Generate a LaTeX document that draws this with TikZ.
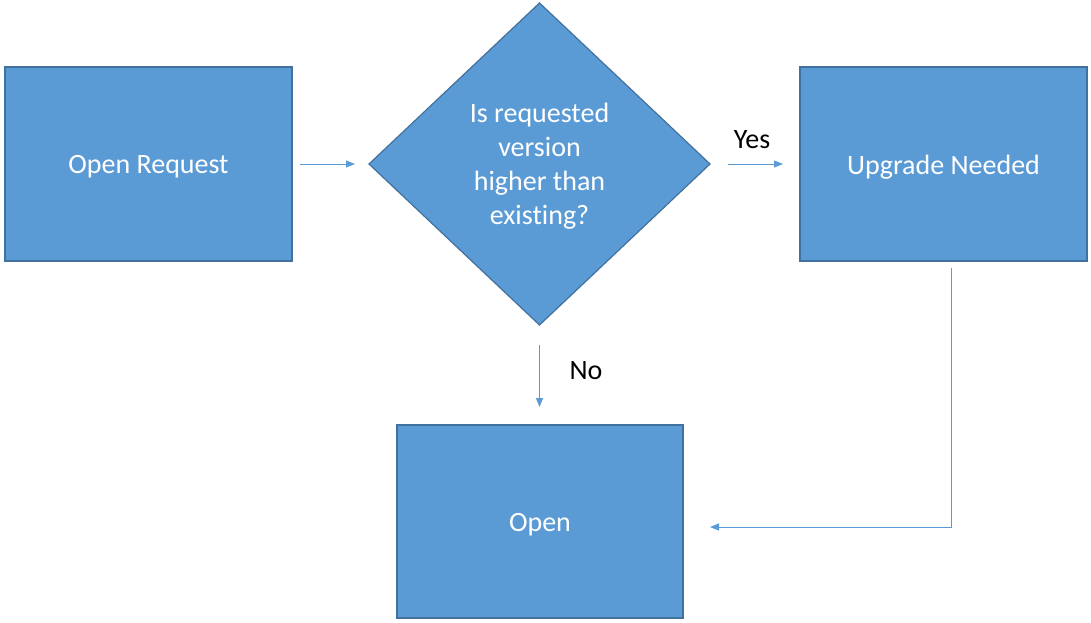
\documentclass[tikz,border=0pt]{standalone}
\usepackage{fontspec}
\setmainfont{Carlito}[Ligatures=NoCommon]
\usetikzlibrary{shapes.geometric,arrows.meta}
\definecolor{boxfill}{HTML}{5B9BD5}
\definecolor{boxline}{HTML}{41719C}
\definecolor{arrowc}{HTML}{5B9BD5}
\newcommand{\dn}[1]{\raisebox{-3pt}[\height][\depth]{#1}}
\begin{document}
\begin{tikzpicture}[x=1pt,y=-1pt,
  box/.style={draw=boxline,line width=1.6pt,fill=boxfill,text=white,
    minimum width=287pt,minimum height=194pt,inner sep=0pt,outer sep=0pt,
    font=\fontsize{28}{34}\selectfont},
  decision/.style={diamond,draw=boxline,line width=1.2pt,fill=boxfill,text=white,
    minimum width=341pt,minimum height=322pt,inner sep=0pt,outer sep=0pt,
    font=\fontsize{28}{34}\selectfont},
  conn/.style={draw=arrowc,line width=0.9pt,-{Triangle[length=9pt,width=7pt]}},
  lbl/.style={text=black,font=\fontsize{28}{34}\selectfont,inner sep=0pt}]
\useasboundingbox (0,0) rectangle (1091,622);
\node[box] (req) at (148.5,164) {\dn{Open Request}};
\node[decision] (dec) at (539.5,164) {\dn{\begin{tabular}{@{}c@{}}Is requested\\version\\higher than\\existing?\end{tabular}}};
\node[box] (upg) at (943.5,164) {\dn{Upgrade Needed}};
\node[box,minimum width=286pt,minimum height=193pt] (open) at (540,521.5) {\dn{Open}};
\draw[conn,shorten <=8pt,shorten >=14pt] (req.east) -- (dec.west);
\draw[conn,shorten <=18pt,shorten >=17pt] (dec.east) -- (upg.west);
\draw[conn,shorten <=20pt,shorten >=18pt] (dec.south) -- (dec.south |- open.north);
\coordinate (corner) at (951,527);
\draw[conn,shorten <=7pt,shorten >=27pt] ([xshift=7.5pt]upg.south) -- (corner) -- (corner -| open.east);
\node[lbl] (yes) at (752,140) {Yes};
\node[lbl] (no) at (586,371) {No};
\end{tikzpicture}
\end{document}
